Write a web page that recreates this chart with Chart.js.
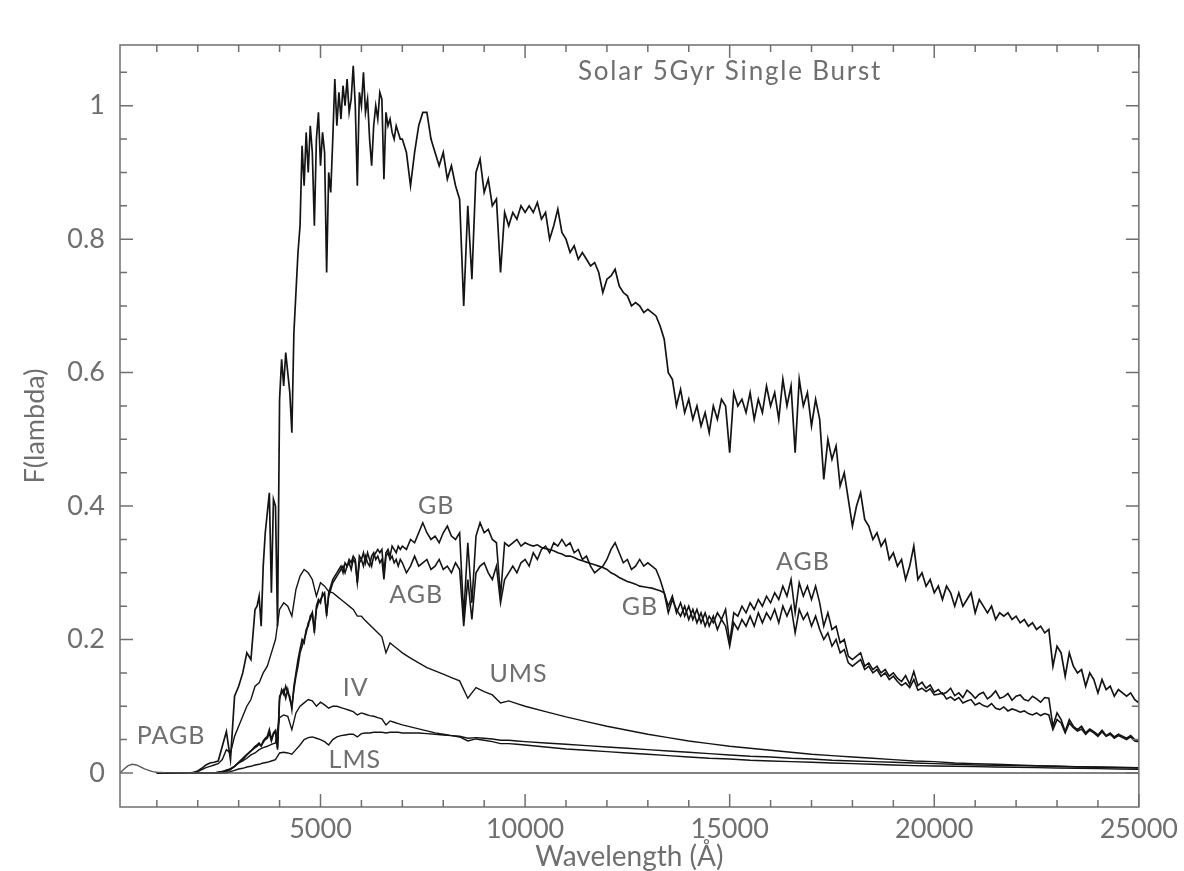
<!DOCTYPE html>
<html><head><meta charset="utf-8">
<script src="https://cdn.jsdelivr.net/npm/chart.js@4.4.1/dist/chart.umd.min.js"></script>
<style>html,body{margin:0;padding:0;background:#fff;}#wrap{width:1184px;height:871px;position:relative;}</style>
</head><body><div id="wrap"><canvas id="c"></canvas></div>
<script>
// ---------- DATA ----------
// fine wavelength grid (Angstrom) for total, GB, AGB
const wavelength = [
1000,1100,1200,1300,1400,1500,1600,1700,1800,1900,
2000,2100,2200,2300,2400,2500,2600,2700,2800,2900,
3000,3100,3200,3300,3400,
3450,3500,3550,3600,3650,3700,3750,3800,3850,3900,
3950,4000,4050,4100,4150,4200,4250,4300,4350,4400,
4450,4500,4550,4600,4650,4700,4750,4800,4850,4900,
4950,5000,5050,5100,5150,5200,5250,5300,5350,5400,
5450,5500,5550,5600,5650,5700,5750,5800,5850,5900,
5950,6000,6050,6100,6150,6200,6250,6300,6350,6400,
6450,6500,6550,6600,6650,6700,6750,6800,6850,6900,
6950,7000,
7100,7200,7300,7400,7500,7600,7700,7800,7900,8000,
8100,8200,8300,8400,8500,8600,8700,8800,8900,9000,
9100,9200,9300,9400,9500,9600,9700,9800,9900,10000,
10100,10200,10300,10400,10500,10600,10700,10800,10900,11000,
11100,11200,11300,11400,11500,11600,11700,11800,11900,12000,
12100,12200,12300,12400,12500,12600,12700,12800,12900,13000,
13100,13200,13300,13400,13500,13600,13700,13800,13900,14000,
14100,14200,14300,14400,14500,14600,14700,14800,14900,15000,
15100,15200,15300,15400,15500,15600,15700,15800,15900,16000,
16100,16200,16300,16400,16500,16600,16700,16800,16900,17000,
17100,17200,17300,17400,17500,17600,17700,17800,17900,18000,
18100,18200,18300,18400,18500,18600,18700,18800,18900,19000,
19100,19200,19300,19400,19500,19600,19700,19800,19900,20000,
20100,20200,20300,20400,20500,20600,20700,20800,20900,21000,
21100,21200,21300,21400,21500,21600,21700,21800,21900,22000,
22100,22200,22300,22400,22500,22600,22700,22800,22900,23000,
23100,23200,23300,23400,23500,23600,23700,23800,23900,24000,
24100,24200,24300,24400,24500,24600,24700,24800,24900,25000
];

const totalFlux = [
0,0,0,0,0,0,0,0,0,0.001,
0.003,0.007,0.012,0.015,0.016,0.018,0.04,0.062,0.02,0.115,
0.13,0.15,0.18,0.17,0.245,
0.25,0.265,0.22,0.31,0.36,0.39,0.42,0.27,0.41,0.40,
0.22,0.56,0.62,0.58,0.63,0.60,0.57,0.51,0.66,0.72,
0.78,0.82,0.94,0.88,0.96,0.90,0.97,0.93,0.82,0.95,
0.99,0.91,0.96,0.93,0.75,0.90,0.87,0.95,1.04,0.97,
1.02,0.98,1.03,1.00,1.04,0.99,1.01,1.06,1.00,0.88,
1.02,1.00,1.05,0.99,1.01,0.95,0.91,0.97,1.00,0.98,
1.02,1.01,0.89,0.99,0.97,0.98,0.96,0.95,0.97,0.96,
0.95,0.95,
0.93,0.88,0.93,0.97,0.99,0.99,0.95,0.93,0.91,0.93,
0.89,0.91,0.88,0.86,0.70,0.85,0.74,0.90,0.92,0.87,
0.89,0.85,0.86,0.75,0.84,0.82,0.84,0.83,0.85,0.84,
0.85,0.84,0.855,0.83,0.84,0.80,0.82,0.845,0.81,0.80,
0.78,0.79,0.77,0.78,0.77,0.76,0.765,0.75,0.72,0.74,
0.745,0.755,0.73,0.72,0.715,0.70,0.705,0.70,0.69,0.695,
0.69,0.685,0.67,0.65,0.60,0.59,0.55,0.575,0.54,0.56,
0.53,0.55,0.52,0.54,0.51,0.55,0.53,0.56,0.55,0.48,
0.57,0.55,0.56,0.54,0.57,0.53,0.56,0.54,0.58,0.55,
0.57,0.53,0.59,0.55,0.58,0.48,0.59,0.55,0.57,0.52,
0.56,0.53,0.44,0.50,0.47,0.49,0.43,0.45,0.41,0.37,
0.40,0.42,0.38,0.37,0.35,0.36,0.34,0.35,0.32,0.33,
0.31,0.32,0.29,0.31,0.34,0.29,0.30,0.28,0.29,0.27,
0.28,0.26,0.28,0.27,0.25,0.27,0.25,0.26,0.27,0.24,
0.26,0.25,0.24,0.25,0.23,0.24,0.235,0.24,0.23,0.235,
0.225,0.23,0.22,0.225,0.215,0.22,0.21,0.215,0.16,0.19,
0.18,0.145,0.18,0.16,0.15,0.155,0.13,0.15,0.14,0.12,
0.14,0.125,0.13,0.115,0.125,0.12,0.115,0.12,0.11,0.105
];

const gbFlux = [
0,0,0,0,0,0,0,0,0,0,
0,0,0,0,0,0.001,0.002,0.004,0.006,0.01,
0.015,0.02,0.027,0.033,0.038,
0.04,0.043,0.041,0.046,0.05,0.052,0.06,0.048,0.058,0.062,
0.035,0.11,0.125,0.118,0.13,0.12,0.115,0.095,0.13,0.15,
0.17,0.185,0.2,0.195,0.215,0.22,0.235,0.24,0.21,0.25,
0.26,0.255,0.27,0.265,0.235,0.27,0.28,0.29,0.295,0.3,
0.305,0.31,0.3,0.315,0.31,0.32,0.315,0.325,0.32,0.285,
0.325,0.32,0.33,0.315,0.33,0.32,0.31,0.325,0.33,0.335,
0.33,0.335,0.3,0.33,0.335,0.325,0.34,0.335,0.33,0.34,
0.335,0.34,
0.335,0.35,0.345,0.36,0.375,0.36,0.35,0.355,0.345,0.36,
0.37,0.355,0.35,0.36,0.235,0.345,0.255,0.355,0.375,0.36,
0.365,0.35,0.345,0.265,0.345,0.34,0.345,0.35,0.34,0.345,
0.342,0.34,0.342,0.338,0.336,0.335,0.333,0.33,0.328,0.325,
0.325,0.323,0.32,0.318,0.316,0.314,0.312,0.31,0.308,0.305,
0.3,0.297,0.293,0.29,0.287,0.285,0.283,0.28,0.279,0.278,
0.277,0.275,0.273,0.27,0.25,0.265,0.24,0.255,0.235,0.25,
0.23,0.245,0.225,0.24,0.22,0.235,0.215,0.23,0.22,0.19,
0.225,0.215,0.23,0.22,0.235,0.22,0.24,0.225,0.24,0.23,
0.245,0.225,0.25,0.235,0.25,0.21,0.245,0.23,0.24,0.22,
0.235,0.215,0.2,0.21,0.19,0.2,0.18,0.185,0.165,0.16,
0.165,0.17,0.155,0.16,0.15,0.155,0.145,0.15,0.14,0.145,
0.137,0.131,0.135,0.128,0.14,0.124,0.127,0.122,0.126,0.117,
0.118,0.12,0.111,0.114,0.109,0.113,0.105,0.108,0.11,0.102,
0.105,0.101,0.099,0.104,0.097,0.095,0.099,0.093,0.096,0.094,
0.091,0.093,0.089,0.087,0.09,0.086,0.089,0.087,0.065,0.08,
0.075,0.06,0.075,0.068,0.063,0.066,0.058,0.064,0.06,0.055,
0.062,0.055,0.058,0.052,0.056,0.053,0.05,0.054,0.048,0.047
];

const agbFlux = [
0,0,0,0,0,0,0,0,0,0,
0,0,0,0,0,0.001,0.002,0.004,0.006,0.01,
0.016,0.022,0.028,0.033,0.04,
0.042,0.045,0.04,0.048,0.052,0.055,0.065,0.05,0.06,0.064,
0.038,0.115,0.12,0.125,0.112,0.125,0.11,0.1,0.125,0.145,
0.16,0.18,0.19,0.2,0.21,0.225,0.23,0.24,0.215,0.245,
0.255,0.26,0.265,0.27,0.24,0.265,0.275,0.285,0.29,0.295,
0.3,0.305,0.31,0.3,0.31,0.315,0.305,0.32,0.315,0.285,
0.315,0.32,0.31,0.325,0.315,0.31,0.325,0.33,0.32,0.325,
0.315,0.32,0.29,0.325,0.33,0.32,0.325,0.315,0.32,0.31,
0.32,0.315,
0.30,0.31,0.325,0.31,0.315,0.32,0.305,0.31,0.32,0.305,
0.31,0.30,0.315,0.305,0.22,0.29,0.23,0.30,0.31,0.315,
0.30,0.29,0.31,0.255,0.29,0.30,0.31,0.30,0.315,0.32,
0.31,0.33,0.32,0.335,0.34,0.33,0.345,0.34,0.35,0.34,
0.345,0.33,0.335,0.32,0.325,0.31,0.30,0.305,0.31,0.32,
0.335,0.345,0.33,0.315,0.32,0.305,0.31,0.32,0.31,0.315,
0.31,0.305,0.29,0.27,0.24,0.26,0.245,0.235,0.25,0.23,
0.245,0.225,0.24,0.22,0.235,0.225,0.24,0.23,0.245,0.195,
0.24,0.235,0.25,0.24,0.255,0.245,0.26,0.25,0.265,0.255,
0.27,0.26,0.28,0.265,0.29,0.24,0.285,0.265,0.28,0.26,
0.28,0.255,0.22,0.24,0.215,0.22,0.195,0.2,0.175,0.17,
0.175,0.18,0.16,0.165,0.155,0.16,0.15,0.155,0.145,0.15,
0.142,0.137,0.146,0.133,0.152,0.131,0.136,0.127,0.132,0.121,
0.125,0.118,0.121,0.127,0.116,0.12,0.113,0.124,0.119,0.112,
0.118,0.121,0.111,0.116,0.123,0.112,0.114,0.119,0.109,0.115,
0.117,0.11,0.108,0.115,0.111,0.106,0.113,0.112,0.07,0.09,
0.08,0.062,0.08,0.07,0.065,0.07,0.06,0.066,0.062,0.057,
0.064,0.056,0.06,0.054,0.058,0.055,0.052,0.056,0.05,0.049
];

// coarse wavelength grid for the smooth components
const wavelengthSmooth = [
1000,1100,1200,1300,1400,1500,1600,1700,1800,1900,
2000,2100,2200,2300,2400,2500,2600,2700,2800,2900,
3000,3100,3200,3300,3400,3500,3600,3700,3800,3900,
4000,4100,4200,4300,4400,4500,4600,4700,4800,4900,
5000,5100,5200,5300,5400,5500,5600,5700,5800,5900,
6000,6100,6200,6300,6400,6500,6600,6700,6800,6900,
7000,
7200,7400,7600,7800,8000,8200,8400,8600,8800,9000,
9200,9400,9600,9800,10000,
10500,11000,11500,12000,12500,13000,13500,14000,14500,15000,
15500,16000,16500,17000,17500,18000,18500,19000,19500,20000,
20500,21000,21500,22000,22500,23000,23500,24000,24500,25000
];

const umsFlux = [
0,0,0,0,0,0,0,0,0,0,
0.002,0.005,0.008,0.01,0.012,0.014,0.02,0.035,0.03,0.055,
0.07,0.085,0.1,0.11,0.13,0.135,0.15,0.16,0.18,0.2,
0.245,0.255,0.25,0.235,0.275,0.295,0.305,0.3,0.29,0.265,
0.285,0.28,0.272,0.27,0.265,0.26,0.255,0.25,0.245,0.235,
0.235,0.228,0.222,0.216,0.21,0.204,0.18,0.195,0.19,0.185,
0.18,
0.172,0.165,0.158,0.153,0.148,0.143,0.138,0.112,0.128,0.122,
0.117,0.105,0.108,0.104,0.1,
0.092,0.084,0.077,0.07,0.064,0.058,0.053,0.048,0.044,0.04,
0.037,0.034,0.031,0.028,0.026,0.024,0.022,0.02,0.018,0.017,
0.015,0.014,0.013,0.012,0.011,0.01,0.009,0.0085,0.008,0.0075
];

const ivFlux = [
0,0,0,0,0,0,0,0,0,0,
0,0,0,0,0,0,0.001,0.002,0.005,0.01,
0.015,0.018,0.022,0.027,0.03,0.035,0.038,0.04,0.043,0.045,
0.083,0.087,0.085,0.065,0.09,0.1,0.105,0.11,0.108,0.1,
0.106,0.102,0.097,0.1,0.1,0.098,0.096,0.094,0.092,0.087,
0.09,0.088,0.086,0.085,0.083,0.081,0.072,0.078,0.076,0.074,
0.072,
0.069,0.066,0.063,0.06,0.058,0.056,0.054,0.048,0.051,0.049,
0.047,0.044,0.044,0.043,0.042,
0.039,0.036,0.034,0.032,0.03,0.028,0.026,0.024,0.022,0.021,
0.019,0.018,0.017,0.016,0.015,0.014,0.013,0.012,0.011,0.0105,
0.01,0.0095,0.009,0.0085,0.008,0.0075,0.007,0.0065,0.006,0.0055
];

const lmsFlux = [
0,0,0,0,0,0,0,0,0,0,
0,0,0,0,0,0,0,0,0.002,0.004,
0.006,0.007,0.009,0.01,0.012,0.013,0.015,0.016,0.018,0.02,
0.03,0.031,0.03,0.028,0.035,0.042,0.05,0.053,0.054,0.052,
0.05,0.047,0.042,0.05,0.054,0.056,0.057,0.058,0.058,0.054,
0.059,0.06,0.06,0.061,0.061,0.061,0.06,0.061,0.061,0.061,
0.06,
0.06,0.06,0.059,0.058,0.057,0.056,0.055,0.052,0.053,0.052,
0.051,0.049,0.049,0.048,0.047,
0.045,0.043,0.041,0.039,0.037,0.035,0.033,0.031,0.029,0.027,
0.025,0.024,0.022,0.021,0.019,0.018,0.017,0.016,0.015,0.014,
0.013,0.012,0.0115,0.011,0.0105,0.01,0.0095,0.009,0.0085,0.008
];

const wavelengthPagb = [100,200,300,400,500,600,700,800,900,1000,1200,1500,2000,25000];
const pagbFlux = [0,0.006,0.011,0.013,0.012,0.009,0.006,0.004,0.002,0.001,0.0005,0.0002,0,0];

// axis ticks
const xTickLabels = [5000,10000,15000,20000,25000];
const xMinorTicks = [1000,2000,3000,4000,5000,6000,7000,8000,9000,10000,11000,12000,13000,14000,15000,16000,17000,18000,19000,20000,21000,22000,23000,24000,25000];
const yTickLabels = [0,0.2,0.4,0.6,0.8,1];
const yMinorTicks = [0,0.05,0.1,0.15,0.2,0.25,0.3,0.35,0.4,0.45,0.5,0.55,0.6,0.65,0.7,0.75,0.8,0.85,0.9,0.95,1,1.05];

// in-plot text labels (data coordinates)
const curveLabels = ['PAGB','LMS','IV','AGB','GB','UMS','GB','AGB'];
const curveLabelX = [1350,5840,5860,7340,7830,9840,12810,16790];
const curveLabelY = [0.056,0.019,0.128,0.267,0.40,0.149,0.249,0.317];
const plotTitle = 'Solar 5Gyr Single Burst';
const plotTitleX = 15010, plotTitleY = 1.051;

// ---------- BUILD ----------
function pts(xs, ys, name){
  if (xs.length !== ys.length) throw new Error(name + ' length ' + ys.length + ' vs ' + xs.length);
  return xs.map((x,i)=>({x:x, y:ys[i]}));
}
const FONT = "Lato, 'DejaVu Sans', sans-serif";
const GRAY = '#6f6f6f';
const LINE = '#141414';

const decor = {
  id:'decor',
  afterDatasetsDraw(chart){
    const {ctx, chartArea:a, scales:{x,y}} = chart;
    ctx.save();
    ctx.strokeStyle = GRAY; ctx.lineWidth = 1.5;
    ctx.strokeRect(a.left, a.top, a.right-a.left, a.bottom-a.top);
    ctx.beginPath();
    xMinorTicks.forEach(v=>{
      const px = x.getPixelForValue(v);
      const L = xTickLabels.includes(v) ? 13 : 7;
      ctx.moveTo(px, a.bottom); ctx.lineTo(px, a.bottom - L);
      ctx.moveTo(px, a.top); ctx.lineTo(px, a.top + L);
    });
    yMinorTicks.forEach(v=>{
      const py = y.getPixelForValue(v);
      const L = yTickLabels.some(t=>Math.abs(t-v)<1e-9) ? 13 : 7;
      ctx.moveTo(a.left, py); ctx.lineTo(a.left + L, py);
      ctx.moveTo(a.right, py); ctx.lineTo(a.right - L, py);
    });
    ctx.stroke();
    ctx.fillStyle = GRAY;
    ctx.textAlign = 'center'; ctx.textBaseline = 'middle';
    ctx.font = '25px ' + FONT;
    if ('letterSpacing' in ctx) ctx.letterSpacing = '1px';
    curveLabels.forEach((t,i)=>{
      ctx.fillText(t, x.getPixelForValue(curveLabelX[i]), y.getPixelForValue(curveLabelY[i]));
    });
    ctx.font = '26px ' + FONT;
    if ('letterSpacing' in ctx) ctx.letterSpacing = '1.8px';
    ctx.fillText(plotTitle, x.getPixelForValue(plotTitleX), y.getPixelForValue(plotTitleY));
    ctx.restore();
  }
};

const ds = (label, xs, ys, color, w) => ({
  label, data: pts(xs, ys, label), borderColor: color, borderWidth: w,
  pointRadius: 0, tension: 0, fill: false
});

new Chart(document.getElementById('c'), {
  type: 'line',
  data: { datasets: [
    ds('PAGB', wavelengthPagb, pagbFlux, '#5a5a5a', 1.4),
    ds('LMS', wavelengthSmooth, lmsFlux, LINE, 1.4),
    ds('IV', wavelengthSmooth, ivFlux, LINE, 1.4),
    ds('UMS', wavelengthSmooth, umsFlux, LINE, 1.4),
    ds('AGB', wavelength, agbFlux, LINE, 1.6),
    ds('GB', wavelength, gbFlux, LINE, 1.6),
    ds('Total', wavelength, totalFlux, LINE, 1.7)
  ]},
  options: {
    responsive: true, maintainAspectRatio: false, animation: false, events: [],
    layout: { padding: { left: 0, right: 45, top: 45, bottom: 0 } },
    plugins: { legend: { display: false }, tooltip: { enabled: false } },
    scales: {
      x: {
        type: 'linear', min: 100, max: 25000,
        afterBuildTicks: s => { s.ticks = xTickLabels.map(v=>({value:v})); },
        afterFit: s => { s.height = 64; },
        ticks: { color: GRAY, font: { family: FONT, size: 27 }, padding: 6, maxRotation: 0, autoSkip: false,
                 callback: v => String(v) },
        grid: { display: false, drawTicks: false }, border: { display: false },
        title: { display: true, text: 'Wavelength (Å)', color: GRAY, font: { family: FONT, size: 28 },
                 padding: { top: 0, bottom: -3 } }
      },
      y: {
        type: 'linear', min: -0.051, max: 1.091,
        afterBuildTicks: s => { s.ticks = yTickLabels.map(v=>({value:v})); },
        afterFit: s => { s.width = 120; },
        ticks: { color: GRAY, font: { family: FONT, size: 27 }, padding: 15, autoSkip: false,
                 callback: v => String(Math.round(v*10)/10) },
        grid: { display: false, drawTicks: false }, border: { display: false },
        title: { display: true, text: 'F(lambda)', color: GRAY, font: { family: FONT, size: 27 },
                 padding: { top: 19, bottom: 0 } }
      }
    }
  },
  plugins: [decor]
});
</script></body></html>
